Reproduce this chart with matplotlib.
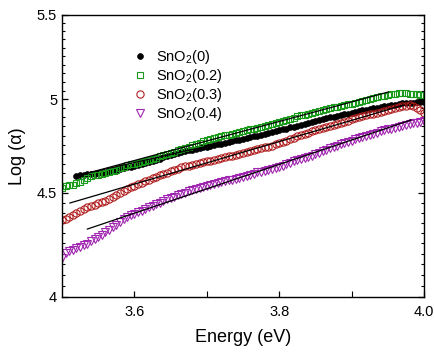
import numpy as np
import matplotlib
matplotlib.use("Agg")
import matplotlib.pyplot as plt
from matplotlib.ticker import FixedLocator, NullFormatter, FixedFormatter

plt.rcParams['font.family'] = ['Liberation Sans', 'DejaVu Sans']
plt.rcParams['mathtext.fontset'] = 'custom'
plt.rcParams['mathtext.rm'] = 'Liberation Sans'

# photon energy grid (eV)
energy = np.array([
    3500, 3505, 3510, 3515, 3520, 3525, 3530, 3535, 3540, 3545,
    3550, 3555, 3560, 3565, 3570, 3575, 3580, 3585, 3590, 3595,
    3600, 3605, 3610, 3615, 3620, 3625, 3630, 3635, 3640, 3645,
    3650, 3655, 3660, 3665, 3670, 3675, 3680, 3685, 3690, 3695,
    3700, 3705, 3710, 3715, 3720, 3725, 3730, 3735, 3740, 3745,
    3750, 3755, 3760, 3765, 3770, 3775, 3780, 3785, 3790, 3795,
    3800, 3805, 3810, 3815, 3820, 3825, 3830, 3835, 3840, 3845,
    3850, 3855, 3860, 3865, 3870, 3875, 3880, 3885, 3890, 3895,
    3900, 3905, 3910, 3915, 3920, 3925, 3930, 3935, 3940, 3945,
    3950, 3955, 3960, 3965, 3970, 3975, 3980, 3985, 3990, 3995,
    4000]) / 1000.0

# SnO2(0) starts at 3.520 eV (index 4)
log_a_0 = [
    4.585, 4.589, 4.592, 4.594, 4.596, 4.597,
    4.599, 4.601, 4.603, 4.606, 4.610, 4.614, 4.620, 4.625, 4.630, 4.634,
    4.638, 4.642, 4.647, 4.653, 4.659, 4.665, 4.671, 4.677, 4.683, 4.689,
    4.694, 4.700, 4.707, 4.712, 4.716, 4.720, 4.724, 4.728, 4.733, 4.737,
    4.741, 4.745, 4.749, 4.753, 4.757, 4.761, 4.765, 4.769, 4.774, 4.778,
    4.782, 4.786, 4.791, 4.795, 4.800, 4.804, 4.809, 4.814, 4.819, 4.824,
    4.828, 4.833, 4.838, 4.844, 4.849, 4.854, 4.859, 4.864, 4.869, 4.874,
    4.879, 4.884, 4.889, 4.894, 4.899, 4.904, 4.908, 4.913, 4.917, 4.921,
    4.926, 4.930, 4.934, 4.938, 4.942, 4.946, 4.950, 4.954, 4.957, 4.961,
    4.965, 4.968, 4.971, 4.974, 4.977, 4.979, 4.981, 4.982, 4.983, 4.984,
    4.985]

log_a_02 = [
    4.525, 4.532, 4.538, 4.541, 4.550, 4.556, 4.566, 4.577, 4.586, 4.590,
    4.593, 4.597, 4.602, 4.606, 4.612, 4.618, 4.626, 4.634, 4.641, 4.646,
    4.650, 4.653, 4.658, 4.663, 4.670, 4.676, 4.682, 4.689, 4.695, 4.701,
    4.708, 4.714, 4.721, 4.728, 4.735, 4.741, 4.747, 4.754, 4.762, 4.768,
    4.774, 4.781, 4.787, 4.791, 4.796, 4.801, 4.805, 4.811, 4.815, 4.820,
    4.824, 4.829, 4.834, 4.838, 4.843, 4.847, 4.852, 4.857, 4.862, 4.868,
    4.872, 4.877, 4.884, 4.891, 4.898, 4.905, 4.911, 4.915, 4.920, 4.925,
    4.931, 4.936, 4.940, 4.945, 4.951, 4.956, 4.960, 4.963, 4.967, 4.972,
    4.976, 4.980, 4.985, 4.990, 4.995, 5.000, 5.006, 5.012, 5.017, 5.022,
    5.026, 5.030, 5.033, 5.036, 5.037, 5.035, 5.033, 5.031, 5.030, 5.027,
    5.025]

log_a_03 = [
    4.362, 4.368, 4.377, 4.388, 4.398, 4.409, 4.418, 4.426, 4.434, 4.440,
    4.446, 4.452, 4.460, 4.469, 4.479, 4.489, 4.500, 4.510, 4.519, 4.527,
    4.535, 4.542, 4.550, 4.558, 4.566, 4.574, 4.581, 4.589, 4.596, 4.603,
    4.610, 4.617, 4.624, 4.631, 4.636, 4.640, 4.645, 4.650, 4.654, 4.658,
    4.662, 4.666, 4.670, 4.674, 4.679, 4.683, 4.688, 4.692, 4.697, 4.701,
    4.706, 4.711, 4.716, 4.721, 4.726, 4.731, 4.736, 4.741, 4.746, 4.752,
    4.758, 4.765, 4.773, 4.781, 4.789, 4.797, 4.804, 4.810, 4.816, 4.822,
    4.828, 4.834, 4.840, 4.846, 4.852, 4.858, 4.864, 4.870, 4.876, 4.882,
    4.888, 4.894, 4.900, 4.906, 4.911, 4.916, 4.921, 4.926, 4.931, 4.936,
    4.941, 4.946, 4.951, 4.956, 4.961, 4.965, 4.967, 4.963, 4.952, 4.938,
    4.925]

log_a_04 = [
    4.180, 4.205, 4.215, 4.220, 4.226, 4.232, 4.240, 4.249, 4.259, 4.270,
    4.281, 4.292, 4.303, 4.314, 4.327, 4.340, 4.353, 4.366, 4.377, 4.386,
    4.394, 4.402, 4.410, 4.418, 4.426, 4.434, 4.442, 4.450, 4.458, 4.466,
    4.473, 4.480, 4.487, 4.494, 4.500, 4.507, 4.513, 4.518, 4.523, 4.528,
    4.533, 4.538, 4.543, 4.548, 4.553, 4.558, 4.563, 4.567, 4.571, 4.575,
    4.580, 4.586, 4.592, 4.598, 4.604, 4.609, 4.614, 4.618, 4.622, 4.627,
    4.632, 4.639, 4.647, 4.655, 4.662, 4.669, 4.675, 4.680, 4.686, 4.693,
    4.700, 4.708, 4.716, 4.724, 4.731, 4.738, 4.745, 4.752, 4.759, 4.766,
    4.773, 4.780, 4.787, 4.793, 4.799, 4.805, 4.811, 4.816, 4.822, 4.828,
    4.833, 4.838, 4.843, 4.848, 4.852, 4.857, 4.861, 4.866, 4.870, 4.875,
    4.879]

# linear fits (end points)
fit_e_0 = [3.525, 3.960]
fit_l_0 = [4.592, 4.975]
fit_e_02 = [3.521, 3.951]
fit_l_02 = [4.586, 5.042]
fit_e_03 = [3.511, 3.972]
fit_l_03 = [4.448, 4.968]
fit_e_04 = [3.535, 3.982]
fit_l_04 = [4.319, 4.885]

labels = ['SnO$_\\mathrm{2}$(0)', 'SnO$_\\mathrm{2}$(0.2)',
          'SnO$_\\mathrm{2}$(0.3)', 'SnO$_\\mathrm{2}$(0.4)']

fig = plt.figure(figsize=(4.34, 3.52), dpi=100)
ax = fig.add_axes([62/434, 1-297/352, 362/434, 282/352])

green = '#1a9a1a'
red = '#b01e1e'
purple = '#a025b0'

ax.plot(energy[4:], log_a_0, 'o', color='black', ms=4.2, mew=0.5, label=labels[0])
ax.plot(energy, log_a_02, 's', mfc='none', mec=green, ms=4.8, mew=0.8, label=labels[1])
ax.plot(energy, log_a_03, 'o', mfc='none', mec=red, ms=5.2, mew=0.8, label=labels[2])
ax.plot(energy, log_a_04, 'v', mfc='none', mec=purple, ms=5.6, mew=0.8, label=labels[3])

for fe, fl in [(fit_e_0, fit_l_0), (fit_e_02, fit_l_02),
               (fit_e_03, fit_l_03), (fit_e_04, fit_l_04)]:
    ax.plot(fe, fl, '-', color='black', lw=0.9, zorder=5)

ax.set_yscale('log')
ax.set_xlim(3.5, 4.0)
ax.set_ylim(4.0, 5.5)
ax.yaxis.set_major_locator(FixedLocator([4.0, 4.5, 5.0, 5.5]))
ax.yaxis.set_major_formatter(FixedFormatter(['4', '4.5', '5', '5.5']))
ax.yaxis.set_minor_locator(FixedLocator([4.0 + 0.05*i for i in range(31)]))
ax.yaxis.set_minor_formatter(NullFormatter())
ax.set_xticks([3.6, 3.8, 4.0])
ax.set_xticklabels(['3.6', '3.8', '4.0'])
ax.set_xticks([3.7, 3.9], minor=True)

ax.tick_params(axis='both', which='both', direction='in', labelsize=10.5)
ax.tick_params(axis='y', which='both', right=True)
ax.tick_params(which='major', length=4, width=0.9)
ax.tick_params(which='minor', length=2.5, width=0.8)
ax.tick_params(axis='x', which='minor', length=4)
ax.tick_params(axis='x', pad=6)
for s in ax.spines.values():
    s.set_linewidth(1.0)

ax.set_xlabel('Energy (eV)', fontsize=13, labelpad=7)
ax.set_ylabel('Log (α)', fontsize=13, labelpad=8)

ax.legend(loc='upper left', bbox_to_anchor=(0.175, 0.91), frameon=False,
          fontsize=10.5, handlelength=1.0, handletextpad=0.6,
          labelspacing=0.07, borderpad=0, markerscale=1.0)

fig.savefig('out.png', dpi=100)
